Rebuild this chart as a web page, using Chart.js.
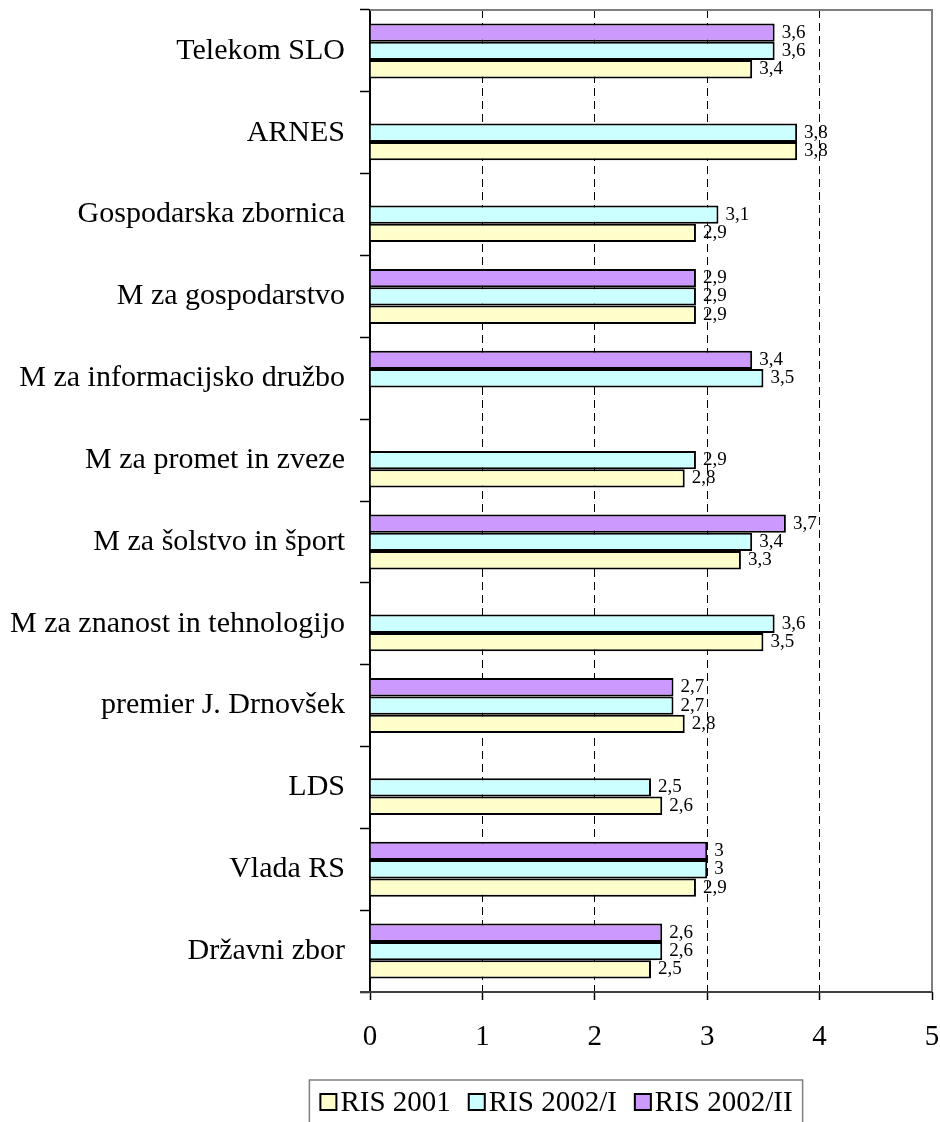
<!DOCTYPE html>
<html>
<head>
<meta charset="utf-8">
<script src="https://cdn.jsdelivr.net/npm/chart.js@4.4.1/dist/chart.umd.min.js"></script>
<style>
	body { margin: 0; background: #fff; }
	#wrap { width: 940px; height: 1122px; }
</style>
</head>
<body>
<div id="wrap"><canvas id="myChart" width="940" height="1122"></canvas></div>
<script>
// podatki
var categories = ['Telekom SLO', 'ARNES', 'Gospodarska zbornica', 'M za gospodarstvo',
	'M za informacijsko družbo', 'M za promet in zveze', 'M za šolstvo in šport',
	'M za znanost in tehnologijo', 'premier J. Drnovšek', 'LDS', 'Vlada RS', 'Državni zbor'];
var ris2001 = [3.4, 3.8, 2.9, 2.9, null, 2.8, 3.3, 3.5, 2.8, 2.6, 2.9, 2.5];
var ris2002_1 = [3.6, 3.8, 3.1, 2.9, 3.5, 2.9, 3.4, 3.6, 2.7, 2.5, 3, 2.6];
var ris2002_2 = [3.6, null, null, 2.9, 3.4, null, 3.7, null, 2.7, null, 3, 2.6];
var seriesNames = ['RIS 2001', 'RIS 2002/I', 'RIS 2002/II'];
var xMin = 0;
var xMax = 5;
var xStep = 1;

var FONT = "'Liberation Serif', 'Times New Roman', serif";

// vrednosti ob stolpcih (3,6 ...)
var valueLabels = {
	id: 'valueLabels',
	afterDatasetsDraw(chart) {
		const ctx = chart.ctx;
		ctx.save();
		ctx.font = '19px ' + FONT;
		ctx.fillStyle = '#000';
		ctx.textAlign = 'left';
		ctx.textBaseline = 'middle';
		chart.data.datasets.forEach((ds, i) => {
			const meta = chart.getDatasetMeta(i);
			meta.data.forEach((bar, j) => {
				const v = ds.data[j];
				if (v === null || v === undefined) return;
				ctx.fillText(String(v).replace('.', ','), bar.x + 7, bar.y);
			});
		});
		ctx.restore();
	}
};

// okvir risalne povrsine + legenda v okvirju
var frameAndLegend = {
	id: 'frameAndLegend',
	afterDraw(chart) {
		const ctx = chart.ctx;
		const a = chart.chartArea;
		ctx.save();
		ctx.setLineDash([]);
		ctx.strokeStyle = '#808080';
		ctx.lineWidth = 2;
		ctx.beginPath();
		ctx.moveTo(a.left, a.top);
		ctx.lineTo(a.right, a.top);
		ctx.lineTo(a.right, a.bottom);
		ctx.stroke();
		// spodnja os
		ctx.strokeStyle = '#404040';
		ctx.beginPath();
		ctx.moveTo(a.left - 10, a.bottom);
		ctx.lineTo(a.right, a.bottom);
		ctx.stroke();

		// legenda: RIS 2001, RIS 2002/I, RIS 2002/II
		const ds = chart.data.datasets.slice().reverse();
		ctx.font = '29px ' + FONT;
		const sw = 18, gapText = 3, gapItem = 17, padX = 10;
		let total = 0;
		ds.forEach((d, i) => {
			total += sw + gapText + ctx.measureText(d.label).width;
			if (i < ds.length - 1) total += gapItem;
		});
		const boxW = total + padX * 2;
		const boxL = 556 - boxW / 2;
		const boxT = 1080;
		const cy = 1102;
		ctx.strokeStyle = '#808080';
		ctx.lineWidth = 1.5;
		ctx.strokeRect(boxL, boxT, boxW, 60);
		let x = boxL + padX;
		ctx.textBaseline = 'middle';
		ctx.textAlign = 'left';
		ds.forEach(d => {
			ctx.fillStyle = d.backgroundColor;
			ctx.fillRect(x, cy - sw / 2, sw, sw);
			ctx.strokeStyle = '#000';
			ctx.lineWidth = 2;
			ctx.strokeRect(x + 1, cy - sw / 2 + 1, sw - 2, sw - 2);
			ctx.fillStyle = '#000';
			ctx.fillText(d.label, x + sw + gapText, cy + 1);
			x += sw + gapText + ctx.measureText(d.label).width + gapItem;
		});
		ctx.restore();
	}
};

document.addEventListener('DOMContentLoaded', function () {
	const chartArea = document.getElementById('myChart').getContext('2d');
	const myChart = new Chart(chartArea, {
		type: 'bar',
		data: {
			labels: categories,
			datasets: [{
				label: seriesNames[2],
				data: ris2002_2,
				backgroundColor: '#CC99FF',
				borderColor: '#000',
				borderWidth: 2
			}, {
				label: seriesNames[1],
				data: ris2002_1,
				backgroundColor: '#CCFFFF',
				borderColor: '#000',
				borderWidth: 2
			}, {
				label: seriesNames[0],
				data: ris2001,
				backgroundColor: '#FFFFCC',
				borderColor: '#000',
				borderWidth: 2
			}]
		},
		options: {
			responsive: false,
			animation: false,
			indexAxis: 'y',
			categoryPercentage: 0.672,
			barPercentage: 1.0,
			layout: {
				padding: { top: 10, right: 8, bottom: 0, left: 0 }
			},
			plugins: {
				legend: { display: false },
				tooltip: { enabled: false }
			},
			scales: {
				x: {
					min: xMin,
					max: xMax,
					ticks: {
						stepSize: xStep,
						padding: 20,
						color: '#000',
						font: { family: FONT, size: 29 }
					},
					grid: {
						color: c => (c.tick && c.tick.value > xMin && c.tick.value < xMax) ? '#000' : 'rgba(0,0,0,0)',
						lineWidth: 1,
						borderDash: [8, 5],
						drawTicks: true,
						tickLength: 8,
						tickColor: '#000',
						tickWidth: 1.5,
						tickBorderDash: []
					},
					border: { display: false, dash: [8, 5] },
					afterFit: s => { s.height = 130; s.paddingLeft = 0; s.paddingRight = 0; }
				},
				y: {
					ticks: {
						padding: 15,
						color: '#000',
						font: { family: FONT, size: 30 }
					},
					grid: {
						drawOnChartArea: false,
						drawTicks: true,
						tickLength: 10,
						tickColor: '#000',
						tickWidth: 1.5
					},
					border: { display: true, color: '#000', width: 2 },
					afterFit: s => { s.width = 370; s.paddingTop = 0; s.paddingBottom = 0; }
				}
			}
		},
		plugins: [valueLabels, frameAndLegend]
	});
});
</script>
</body>
</html>
